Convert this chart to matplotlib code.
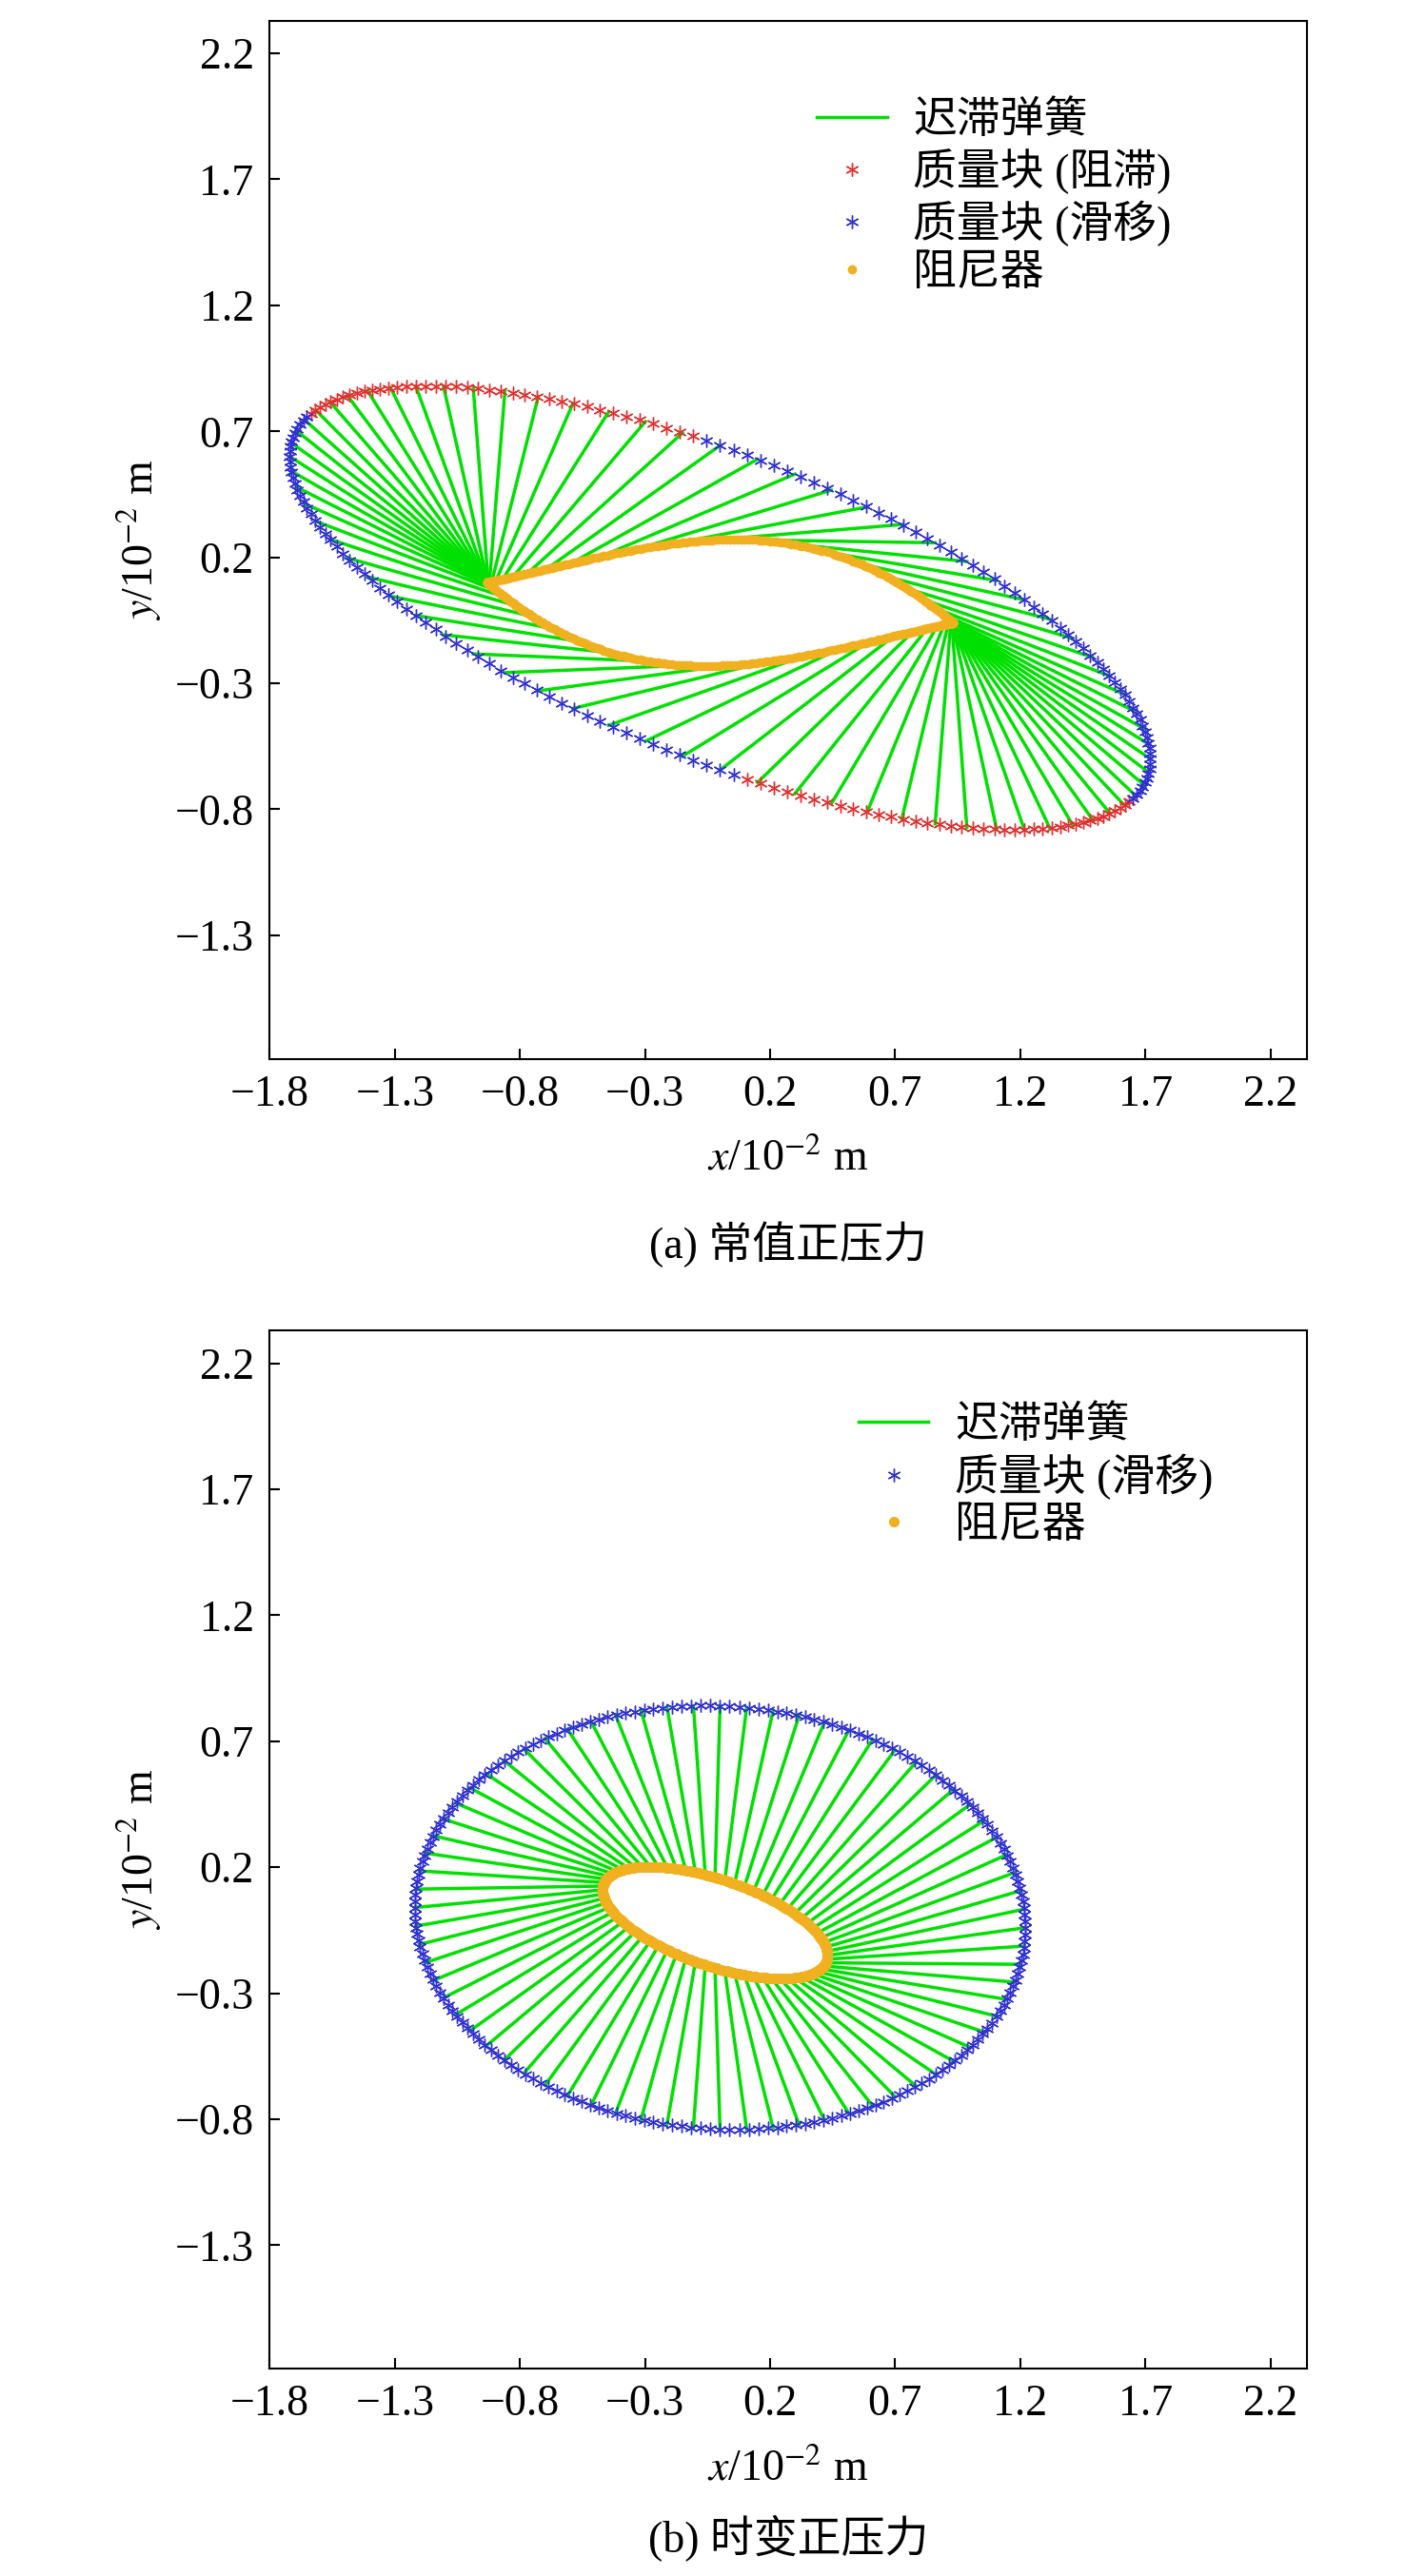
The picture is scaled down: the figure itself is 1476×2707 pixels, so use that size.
import numpy as np
import matplotlib.pyplot as plt

plt.rcParams['font.family'] = ['Liberation Serif', 'Noto Sans CJK SC']
plt.rcParams['mathtext.fontset'] = 'stix'

# shape parameters (10^-2 m)
# panel a: outer ellipse x = ax*cos t, y = ay_c*cos t + ay_s*sin t
a_outer = dict(ax=1.72, yc=-0.60, ys=0.644)
a_inner = dict(half=0.93, tilt=-0.08, off=0.02, h=0.25)
a_lag = 0.45           # phase lead of damper (rad)
a_stick = [(1.62, 2.85), (4.76, 5.99)]   # phase ranges drawn red (stick)
# panel b
b_outer = dict(ax=1.22, yc=-0.04, ys=0.84)
b_inner = dict(ax=0.45, yc=-0.13, ys=0.18, x0=-0.02, y0=-0.02)

n_mass = 200
n_spring = 72
xticks = [-1.8, -1.3, -0.8, -0.3, 0.2, 0.7, 1.2, 1.7, 2.2]
yticks = [-1.3, -0.8, -0.3, 0.2, 0.7, 1.2, 1.7, 2.2]
GREEN = '#00e000'
ORANGE = '#f0b020'
AST = (6, 2, 0)
FS = 33


def outer(p, t):
    return p['ax'] * np.cos(t), p['yc'] * np.cos(t) + p['ys'] * np.sin(t)


def lens(p, u):
    c = np.cos(u)
    s = np.sign(np.sin(u))
    x = p['half'] * c
    y = p['off'] + p['tilt'] * c + s * p['h'] * (1 - c ** 2) * (1 + 0.45 * c * s)
    return x, y


def setup(ax):
    ax.set_xlim(-1.8, 2.345)
    ax.set_ylim(-1.79, 2.33)
    ax.set_xticks(xticks)
    ax.set_yticks(yticks)
    ax.set_xticklabels([f'{v:.1f}'.replace('-', '\u2212') for v in xticks])
    ax.set_yticklabels([f'{v:.1f}'.replace('-', '\u2212') for v in yticks])
    ax.tick_params(direction='in', labelsize=FS, length=8, width=1.5, pad=12)
    for s in ax.spines.values():
        s.set_linewidth(1.5)
    ax.set_xlabel(r'$x$/10$^{-2}$ m', fontsize=FS, labelpad=18)
    ax.set_ylabel(r'$y$/10$^{-2}$ m', fontsize=FS, labelpad=8)


fig = plt.figure(figsize=(14.76, 27.07), dpi=100)
ax1 = fig.add_axes([0.192, 0.589, 0.738, 0.403])
ax2 = fig.add_axes([0.192, 0.0805, 0.738, 0.403])

# ---- panel a
t = np.linspace(0, 2 * np.pi, n_spring, endpoint=False)
u = (t + a_lag) - 0.5 * np.sin(2 * (t + a_lag))
xo, yo = outer(a_outer, t)
xi, yi = lens(a_inner, u)
for k in range(n_spring):
    ax1.plot([xo[k], xi[k]], [yo[k], yi[k]], color=GREEN, lw=2.5,
             label='迟滞弹簧' if k == 0 else None)
tm = np.linspace(0, 2 * np.pi, n_mass, endpoint=False)
red = np.zeros(n_mass, bool)
for lo, hi in a_stick:
    red |= (tm >= lo) & (tm <= hi)
xm, ym = outer(a_outer, tm)
ax1.plot(xm[red], ym[red], ls='none', marker=AST, color='#e03030', ms=10, mew=1.0, label='质量块 (阻滞)')
ax1.plot(xm[~red], ym[~red], ls='none', marker=AST, color='#3030d0', ms=10, mew=1.0, label='质量块 (滑移)')
ud = np.linspace(0, 2 * np.pi, 400)
xd, yd = lens(a_inner, ud)
ax1.plot(xd, yd, 'o', color=ORANGE, ms=6, label='阻尼器')
setup(ax1)
ax1.legend(loc='upper left', bbox_to_anchor=(0.49, 0.96), frameon=False, fontsize=FS,
           handlelength=1.6, labelspacing=0.15, handletextpad=0.6)

# ---- panel b
xo, yo = outer(b_outer, t)
xi = b_inner['x0'] + b_inner['ax'] * np.cos(t)
yi = b_inner['y0'] + b_inner['yc'] * np.cos(t) + b_inner['ys'] * np.sin(t)
for k in range(n_spring):
    ax2.plot([xo[k], xi[k]], [yo[k], yi[k]], color=GREEN, lw=2.5,
             label='迟滞弹簧' if k == 0 else None)
xm, ym = outer(b_outer, tm)
ax2.plot(xm, ym, ls='none', marker=AST, color='#3030d0', ms=10, mew=1.0, label='质量块 (滑移)')
xd = b_inner['x0'] + b_inner['ax'] * np.cos(ud)
yd = b_inner['y0'] + b_inner['yc'] * np.cos(ud) + b_inner['ys'] * np.sin(ud)
ax2.plot(xd, yd, 'o', color=ORANGE, ms=7)
ax2.plot([], [], 'o', color=ORANGE, ms=7, label='阻尼器')
setup(ax2)
ax2.legend(loc='upper left', bbox_to_anchor=(0.53, 0.965), frameon=False, fontsize=FS,
           handlelength=1.6, labelspacing=0.15, handletextpad=0.6)

fig.text(0.561, 0.517, '(a) 常值正压力', ha='center', va='center', fontsize=FS)
fig.text(0.561, 0.0147, '(b) 时变正压力', ha='center', va='center', fontsize=FS)

fig.savefig('out.png', dpi=100)
